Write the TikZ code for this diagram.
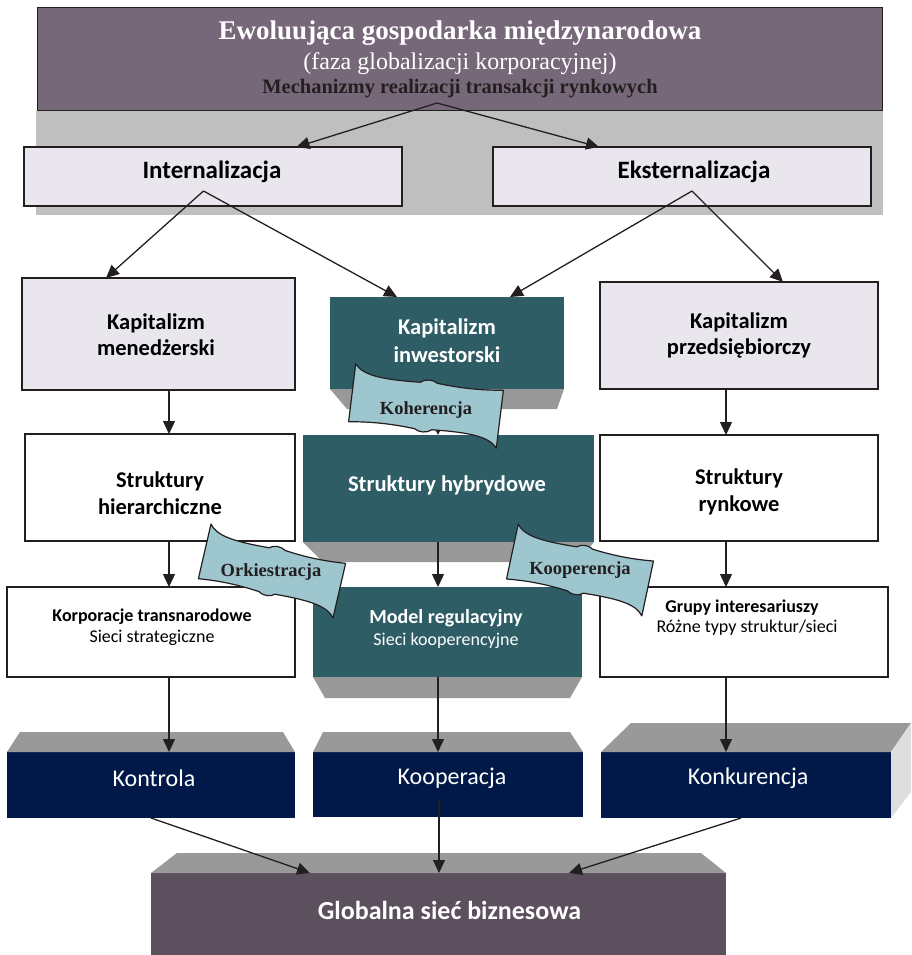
\documentclass[tikz,border=0pt]{standalone}
\usepackage{fontspec}
\setmainfont{Liberation Serif}
\newfontfamily\carlito{Carlito}
\usetikzlibrary{arrows.meta,calc}

\definecolor{headviolet}{RGB}{119,104,121}
\definecolor{bandgrey}{RGB}{191,191,191}
\definecolor{paleviolet}{RGB}{233,231,237}
\definecolor{deepteal}{RGB}{46,93,101}
\definecolor{bevelgrey}{RGB}{153,153,153}
\definecolor{sidegrey}{RGB}{222,222,222}
\definecolor{deepnavy}{RGB}{1,25,72}
\definecolor{plumgrey}{RGB}{92,79,94}
\definecolor{flagblue}{RGB}{158,198,206}
\definecolor{inkdark}{RGB}{35,31,32}

\newcommand\sfb[2]{\carlito\bfseries\fontsize{#1}{#2}\selectfont}
\newcommand\sfr[2]{\carlito\fontsize{#1}{#2}\selectfont}
\newcommand\rmbold[1]{\bfseries\fontsize{#1}{#1}\selectfont}
\newcommand\rmreg[1]{\fontsize{#1}{#1}\selectfont}

\tikzset{
  conn/.style={draw=inkdark, line width=1.3pt, -{Triangle[length=13pt,width=12pt]}},
  palebox/.style={draw=inkdark, line width=1.4pt, fill=paleviolet},
  whitebox/.style={draw=inkdark, line width=1.4pt, fill=white},
  tealbox/.style={fill=deepteal},
  navybox/.style={fill=deepnavy},
  face/.style={fill=bevelgrey},
  darktext/.style={align=center, text=black},
  lighttext/.style={align=center, text=white},
  flagline/.style={fill=flagblue, draw=inkdark, line width=1.2pt, line join=round},
  flagtext/.style={text=inkdark, font=\rmbold{18.5}},
  banner/.pic={
    \path[flagline] (-70,-32) .. controls (-62,-22) and (-45,-20) .. (-8,-22)
      .. controls (-4,-26) and (4,-26) .. (8,-23)
      .. controls (40,-20) and (60,-23) .. (70,-24)
      -- (70,32) .. controls (62,22) and (45,20) .. (8,22)
      .. controls (4,26) and (-4,26) .. (-8,23)
      .. controls (-40,20) and (-60,23) .. (-70,24) -- cycle;
  }
}

\begin{document}
\begin{tikzpicture}[x=1pt,y=-1pt, every node/.style={inner sep=0pt,outer sep=0pt}]
\useasboundingbox (0,0) rectangle (911,955);

% header with its grey backdrop
\node[fill=bandgrey, minimum width=847, minimum height=104] (band) at (459.5,163) {};
\node[fill=headviolet, draw=inkdark, line width=1pt, minimum width=845, minimum height=103] (head) at (459.5,59.5) {};
\node[text=white, font=\rmbold{27}] (title) at (460,33) {Ewoluująca gospodarka międzynarodowa};
\node[text=white, font=\rmreg{24}] (phase) at (460,64) {(faza globalizacji korporacyjnej)};
\node[text=inkdark, font=\rmbold{20.5}] (mech) at (460,89) {Mechanizmy realizacji transakcji rynkowych};
\coordinate (split) at (437,103);

% internalisation / externalisation
\node[palebox, minimum width=378, minimum height=59] (int) at (213,176.5) {};
\node[palebox, minimum width=378, minimum height=59] (ekst) at (682,176.5) {};
\node[darktext, font=\sfb{25}{30}] (inttxt) at (212,172) {Internalizacja};
\node[darktext, font=\sfb{25}{30}] (eksttxt) at (694,172) {Eksternalizacja};
\coordinate (intfoot) at (203.5,191);
\coordinate (ekstfoot) at (692,191);

% kinds of capitalism
\node[palebox, minimum width=273, minimum height=112] (men) at (158.5,334) {};
\node[tealbox, minimum width=234, minimum height=92] (inw) at (447,343) {};
\node[palebox, minimum width=278, minimum height=107] (prz) at (739,335.5) {};
\node[darktext, font=\sfb{22.5}{26}] (mentxt) at (156,335) {Kapitalizm\\menedżerski};
\node[lighttext, font=\sfb{22.5}{28}] (inwtxt) at (447,341) {Kapitalizm\\inwestorski};
\node[darktext, font=\sfb{22.5}{26}] (prztxt) at (739,335) {Kapitalizm\\przedsiębiorczy};

% structures
\node[whitebox, minimum width=270, minimum height=107] (hier) at (160,487.5) {};
\node[tealbox, minimum width=291, minimum height=107] (hyb) at (448.5,488.5) {};
\node[whitebox, minimum width=278, minimum height=106] (ryn) at (739,488) {};
\node[darktext, font=\sfb{22.5}{27}] (hiertxt) at (160,493) {Struktury\\hierarchiczne};
\node[lighttext, font=\sfb{22.5}{27}] (hybtxt) at (447,485) {Struktury hybrydowe};
\node[darktext, font=\sfb{22.5}{27}] (ryntxt) at (739,492) {Struktury\\rynkowe};

% organisational forms
\node[whitebox, minimum width=288, minimum height=90] (korp) at (151,632) {};
\node[tealbox, minimum width=269, minimum height=90] (model) at (447.5,632) {};
\node[whitebox, minimum width=288, minimum height=90] (grupy) at (744,632) {};
\node[darktext, font=\sfr{18}{21}] (korptxt) at (152,627.5) {\textbf{Korporacje transnarodowe}\\Sieci strategiczne};
\node[lighttext, font=\sfr{18}{22}] (modeltxt) at (446,629) {{\bfseries\fontsize{20}{22}\selectfont Model regulacyjny}\\Sieci kooperencyjne};
\node[darktext, font=\sfr{18}{20}] (grupytxt) at (742,618) {\textbf{Grupy interesariuszy}\\\hspace*{10pt}Różne typy struktur/sieci};

% bevels under the teal boxes
\fill[face] (inw.south west) -- (inw.south east) -- ($(inw.south east)+(-7,20)$) -- ($(inw.south west)+(17,20)$) -- cycle;
\fill[face] (hyb.south west) -- (hyb.south east) -- ($(hyb.south east)+(-17,20)$) -- ($(hyb.south west)+(20,20)$) -- cycle;
\fill[face] (model.south west) -- (model.south east) -- ($(model.south east)+(-12,21)$) -- ($(model.south west)+(12,21)$) -- cycle;

% relations
\node[navybox, minimum width=288, minimum height=66] (kontr) at (151,785) {};
\node[navybox, minimum width=270, minimum height=65] (koop) at (448,784.5) {};
\node[navybox, minimum width=290, minimum height=66] (konk) at (746,785) {};
\fill[face] (kontr.north west) -- (kontr.north east) -- ($(kontr.north east)+(-12,-20)$) -- ($(kontr.north west)+(13,-20)$) -- cycle;
\fill[face] (koop.north west) -- (koop.north east) -- ($(koop.north east)+(-13,-20)$) -- ($(koop.north west)+(10,-20)$) -- cycle;
\fill[face] (konk.north west) -- (konk.north east) -- ($(konk.north east)+(20,-29)$) -- ($(konk.north west)+(30,-29)$) -- cycle;
\fill[sidegrey] (konk.north east) -- ($(konk.north east)+(20,-29)$) -- ($(konk.south east)+(20,-26)$) -- (konk.south east) -- cycle;
\node[lighttext, font=\sfr{24}{28}] (kontrtxt) at (154,778) {Kontrola};
\node[lighttext, font=\sfr{24}{28}] (kooptxt) at (452,778) {Kooperacja};
\node[lighttext, font=\sfr{24}{28}] (konktxt) at (748,778) {Konkurencja};
\coordinate (koopfoot) at (439,800);

% global network
\node[fill=plumgrey, minimum width=575, minimum height=82] (glob) at (438.5,914) {};
\fill[plumgrey] (glob.south west) rectangle ($(glob.south east)+(0,10)$);
\fill[face] (glob.north west) -- (glob.north east) -- ($(glob.north east)+(-25,-20)$) -- ($(glob.north west)+(26,-20)$) -- cycle;
\node[lighttext, font=\sfb{26}{30}] (globtxt) at (449.5,910) {Globalna sieć biznesowa};

% connectors
\coordinate (laneL) at (169,0);
\coordinate (laneM) at (438,0);
\coordinate (laneR) at (726,0);
\draw[conn] (split) -- ($(int.north)+(83.5,0)$);
\draw[conn] (split) -- ($(ekst.north)+(-83,0)$);
\draw[conn] (intfoot) -- ($(men.north)+(-52.5,0)$);
\draw[conn] (intfoot) -- ($(inw.north)+(-50,0)$);
\draw[conn] (ekstfoot) -- ($(inw.north)+(63,0)$);
\draw[conn] (ekstfoot) -- ($(prz.north)+(44,0)$);
\draw[conn] (men.south -| laneL) -- (hier.north -| laneL);
\draw[conn] (inw.south -| laneM) -- (hyb.north -| laneM);
\draw[conn] (prz.south -| laneR) -- (ryn.north -| laneR);
\draw[conn] (hier.south -| laneL) -- (korp.north -| laneL);
\draw[conn] (hyb.south -| laneM) -- (model.north -| laneM);
\draw[conn] (ryn.south -| laneR) -- (grupy.north -| laneR);
\draw[conn] (korp.south -| laneL) -- (kontr.north -| laneL);
\draw[conn] (model.south -| laneM) -- (koop.north -| laneM);
\draw[conn] (grupy.south -| laneR) -- (konk.north -| laneR);
\draw[conn] (kontr.south) -- ($(glob.north)+(-128.5,0)$);
\draw[conn] (koopfoot) -- (glob.north -| koopfoot);
\draw[conn] ($(konk.south)+(-5,0)$) -- ($(glob.north)+(130.5,0)$);

% ribbons naming the coordination modes
\pic[rotate=-7, xscale=1.07, yscale=1.04] at (426,406) {banner};
\pic[rotate=-13] at (272,571) {banner};
\pic[rotate=-12] at (580,570) {banner};
\node[flagtext] (koh) at (426,410) {Koherencja};
\node[flagtext] (ork) at (271,572) {Orkiestracja};
\node[flagtext] (kpr) at (580,570) {Kooperencja};
\end{tikzpicture}
\end{document}
